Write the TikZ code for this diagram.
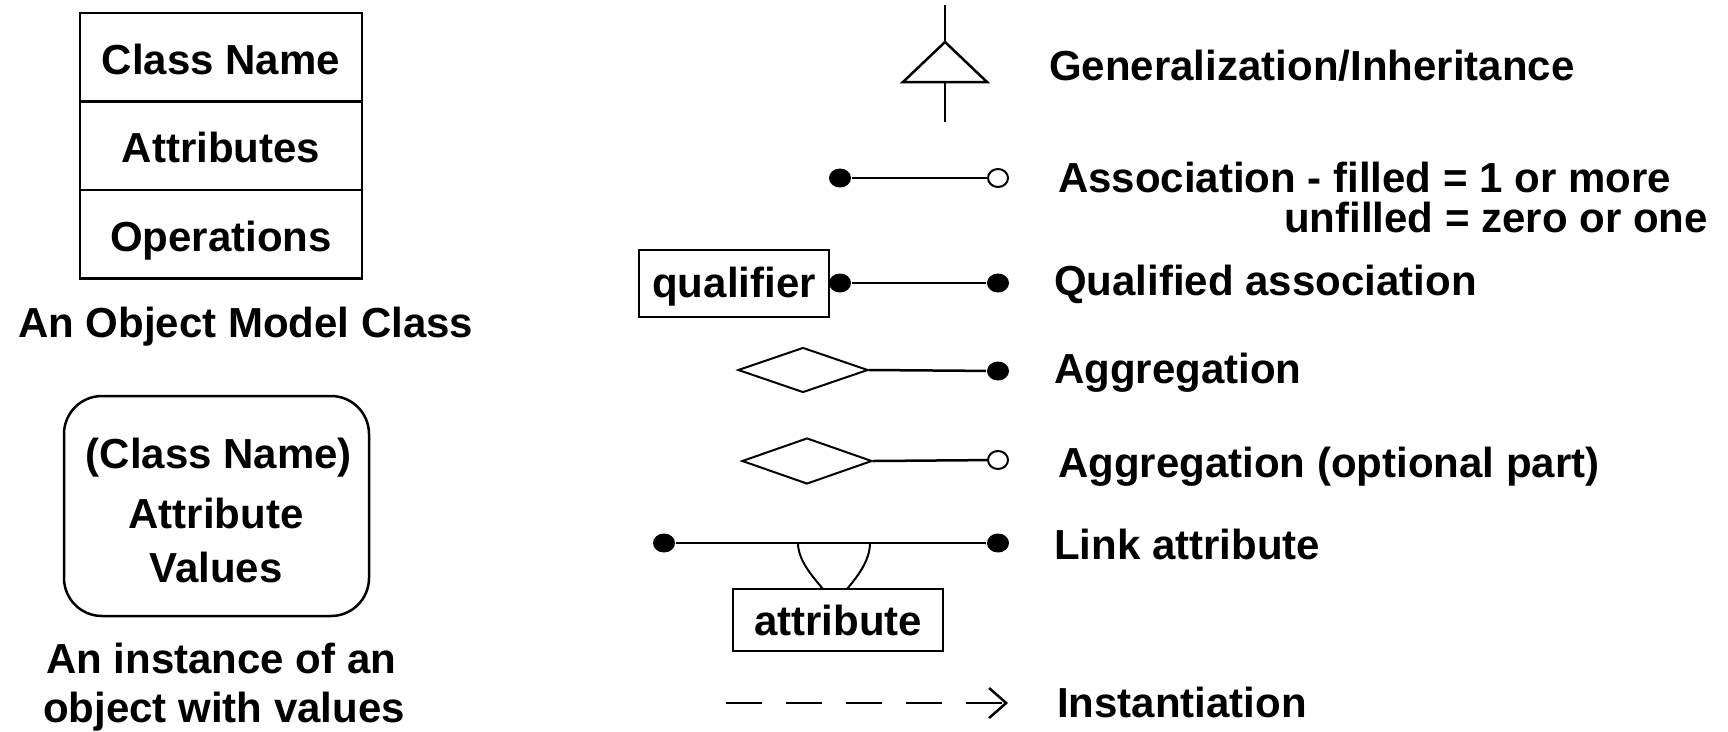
\documentclass[tikz,border=0pt]{standalone}
\usepackage{fontspec}
\newfontfamily\lfont{Liberation Sans Bold}
\usetikzlibrary{shapes.geometric,arrows.meta}
\begin{document}
\begin{tikzpicture}[x=1pt,y=-1pt,line width=2.5pt,
  ltxt/.style={font=\lfont\fontsize{42pt}{50pt}\selectfont,inner sep=0pt},
  ntxt/.style={ltxt,anchor=base west},
  cell/.style={draw,ltxt,minimum width=282pt,minimum height=88.5pt,text height=34pt,text depth=0pt},
  tbox/.style={draw,ltxt,inner sep=0pt},
  dot/.style={ellipse,fill=black,draw=none,minimum width=22pt,minimum height=19pt,inner sep=0pt},
  odot/.style={ellipse,fill=white,draw,line width=2pt,minimum width=20pt,minimum height=18pt,inner sep=0pt},
  agg/.style={diamond,draw,line width=2pt,minimum width=130pt,minimum height=45pt,inner sep=0pt}]
\useasboundingbox (0,0) rectangle (1728,731);
% ---- class box
\node[cell] (cname) at (221,57.25) {Class Name};
\node[cell] (cattr) at (221,145.75) {Attributes};
\node[cell] (cops) at (221,234.25) {Operations};
\node[ltxt,anchor=base west] (ccap) at (17,337) {An Object Model Class};
% ---- instance box
\node[draw,rounded corners=38pt,minimum width=305pt,minimum height=220pt,line width=2.5pt] (inst) at (216.5,506) {};
\node[ltxt,anchor=base] (iname) at (219,468) {(Class Name)};
\node[ltxt,anchor=base] (iattr) at (216,528) {Attribute};
\node[ltxt,anchor=base] (ival) at (216,582) {Values};
\node[ltxt,anchor=base west] (icap1) at (45,673) {An instance of an};
\node[ltxt,anchor=base west] (icap2) at (42,722) {object with values};
% ---- generalization
\coordinate (gtop) at (945,5);
\coordinate (gapex) at (945,42);
\coordinate (gbl) at (903,82);
\coordinate (gbr) at (987,82);
\coordinate (gbase) at (945,82);
\coordinate (gbot) at (945,122);
\draw (gtop) -- (gapex);
\draw[line join=miter] (gapex) -- (gbr) -- (gbl) -- cycle;
\draw (gbase) -- (gbot);
\node[ntxt] (lgen) at (1048,80) {Generalization/Inheritance};
% ---- association
\node[dot] (a1) at (840,178) {};
\node[odot] (a2) at (998,178) {};
\draw (a1) -- (a2);
\node[ntxt] (lassoc) at (1057,192) {Association - filled = 1 or more};
\node[ntxt] (lassoc2) at (1283,232) {unfilled = zero or one};
% ---- qualified association
\node[tbox,minimum width=190pt,minimum height=67pt,text height=31pt,text depth=4pt] (qual) at (734,283.5) {qualifier};
\node[dot] (q1) at (840,283) {};
\node[dot] (q2) at (998,283) {};
\draw (q1) -- (q2);
\node[ntxt] (lqual) at (1053,295) {Qualified association};
% ---- aggregation
\node[agg] (ag1) at (803,370) {};
\node[dot] (ag2) at (998,371) {};
\draw (ag1.east) -- (ag2);
\node[ntxt] (lagg) at (1053,383) {Aggregation};
% ---- aggregation optional
\node[agg,minimum height=46pt] (ao1) at (807,461) {};
\node[odot] (ao2) at (998,460) {};
\draw (ao1.east) -- (ao2);
\node[ntxt] (laggo) at (1057,477) {Aggregation (optional part)};
% ---- link attribute
\node[dot] (l1) at (664,543) {};
\node[dot] (l2) at (998,543) {};
\draw (l1) -- (l2);
\node[tbox,minimum width=210pt,minimum height=62pt] (attr) at (838,620) {attribute};
\coordinate (c1) at (798,543);
\coordinate (c2) at (870,543);
\coordinate (c3) at (823,589);
\coordinate (c4) at (847,589);
\draw[line width=2pt] (c1) .. controls (798,560) and (812,576) .. (c3);
\draw[line width=2pt] (c2) .. controls (870,560) and (858,576) .. (c4);
\node[ntxt] (llink) at (1053,559) {Link attribute};
% ---- instantiation
\coordinate (i1) at (726,703);
\coordinate (i2) at (1008,703);
\draw[dash pattern=on 36pt off 24pt,-{Straight Barb[length=17pt,width=30pt,line width=2.5pt]}] (i1) -- (i2);
\node[ntxt] (linst) at (1056,717) {Instantiation};
\end{tikzpicture}
\end{document}
